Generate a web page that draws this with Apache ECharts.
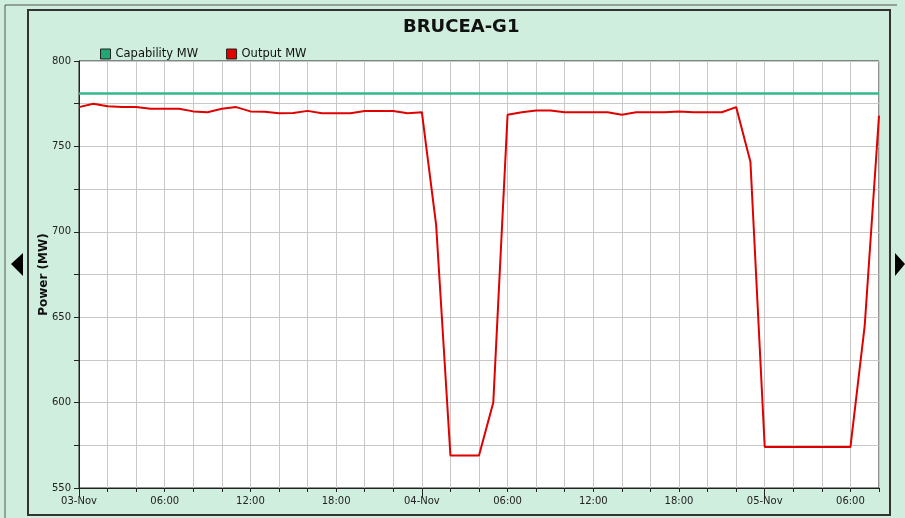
<!DOCTYPE html>
<html>
<head>
<meta charset="utf-8">
<script src="https://cdn.jsdelivr.net/npm/echarts@6/dist/echarts.min.js"></script>
<style>
  html, body { margin: 0; padding: 0; background: #cfeede; }
  #chart { width: 905px; height: 518px; }
</style>
</head>
<body>
<div id="chart"></div>
<script>
// hourly timestamps, 03-Nov 00:00 .. 05-Nov 08:00
const categories = [
  '03-Nov 00:00', '03-Nov 01:00', '03-Nov 02:00', '03-Nov 03:00', '03-Nov 04:00', '03-Nov 05:00',
  '03-Nov 06:00', '03-Nov 07:00', '03-Nov 08:00', '03-Nov 09:00', '03-Nov 10:00', '03-Nov 11:00',
  '03-Nov 12:00', '03-Nov 13:00', '03-Nov 14:00', '03-Nov 15:00', '03-Nov 16:00', '03-Nov 17:00',
  '03-Nov 18:00', '03-Nov 19:00', '03-Nov 20:00', '03-Nov 21:00', '03-Nov 22:00', '03-Nov 23:00',
  '04-Nov 00:00', '04-Nov 01:00', '04-Nov 02:00', '04-Nov 03:00', '04-Nov 04:00', '04-Nov 05:00',
  '04-Nov 06:00', '04-Nov 07:00', '04-Nov 08:00', '04-Nov 09:00', '04-Nov 10:00', '04-Nov 11:00',
  '04-Nov 12:00', '04-Nov 13:00', '04-Nov 14:00', '04-Nov 15:00', '04-Nov 16:00', '04-Nov 17:00',
  '04-Nov 18:00', '04-Nov 19:00', '04-Nov 20:00', '04-Nov 21:00', '04-Nov 22:00', '04-Nov 23:00',
  '05-Nov 00:00', '05-Nov 01:00', '05-Nov 02:00', '05-Nov 03:00', '05-Nov 04:00', '05-Nov 05:00',
  '05-Nov 06:00', '05-Nov 07:00', '05-Nov 08:00'
]

const capabilityMW = [
  781, 781, 781, 781, 781, 781, 781, 781, 781, 781, 781, 781,
  781, 781, 781, 781, 781, 781, 781, 781, 781, 781, 781, 781,
  781, 781, 781, 781, 781, 781, 781, 781, 781, 781, 781, 781,
  781, 781, 781, 781, 781, 781, 781, 781, 781, 781, 781, 781,
  781, 781, 781, 781, 781, 781, 781, 781, 781
]

const outputMW = [
  773, 775, 773.5, 773, 773, 772, 772, 772, 770.5, 770, 772, 773,
  770.5, 770.3, 769.4, 769.5, 770.8, 769.4, 769.4, 769.4, 770.7, 770.7, 770.7, 769.4,
  770, 704, 569, 569, 569, 600, 768.5, 770, 771, 771, 770, 770,
  770, 770, 768.5, 770, 770, 770, 770.5, 770, 770, 770, 773, 741,
  574, 574, 574, 574, 574, 574, 574, 645, 768
]

const yTickLabels = [550, 600, 650, 700, 750, 800]

const chart = echarts.init(document.getElementById('chart'))

const option = {
  backgroundColor: '#cfeede',
  animation: false,
  title: {
    text: 'BRUCEA-G1',
    left: 398,
    top: 13,
    textStyle: {
      fontFamily: 'DejaVu Sans',
      fontWeight: 'bold',
      fontSize: 18,
      color: '#111'
    }
  },
  legend: {
    left: 95,
    top: 43,
    itemWidth: 10,
    itemHeight: 10,
    itemGap: 28,
    icon: 'rect',
    textStyle: { fontFamily: 'DejaVu Sans', fontSize: 11.5, color: '#111' },
    data: [
      { name: 'Capability MW', itemStyle: { color: '#1fa774', borderColor: '#222', borderWidth: 1 } },
      { name: 'Output MW', itemStyle: { color: '#e00000', borderColor: '#222', borderWidth: 1 } }
    ]
  },
  grid: {
    left: 79,
    right: 26,
    top: 61,
    bottom: 30,
    show: true,
    backgroundColor: '#fff',
    borderColor: '#222',
    borderWidth: 1
  },
  xAxis: [
    {
      type: 'category',
      data: categories,
      boundaryGap: false,
      axisLine: { lineStyle: { color: '#222' } },
      axisTick: {
        interval: (i) => i % 2 === 0,
        length: 4,
        lineStyle: { color: '#222' }
      },
      axisLabel: {
        interval: (i) => i % 6 === 0,
        fontFamily: 'DejaVu Sans',
        fontSize: 10,
        color: '#222',
        margin: 8,
        formatter: (v) => v.endsWith('00:00') ? v.split(' ')[0] : v.split(' ')[1]
      },
      splitLine: {
        show: true,
        interval: (i) => i % 2 === 0,
        lineStyle: { color: '#c8c8c8', width: 1 }
      }
    },
    {
      // longer ticks at the day boundaries
      type: 'category',
      data: categories,
      boundaryGap: false,
      position: 'bottom',
      axisLine: { show: false },
      axisTick: {
        interval: (i) => i % 24 === 0,
        length: 9,
        lineStyle: { color: '#222' }
      },
      axisLabel: { show: false },
      splitLine: { show: false }
    }
  ],
  yAxis: {
    type: 'value',
    min: 550,
    max: 800,
    interval: 25,
    name: 'Power (MW)',
    nameLocation: 'middle',
    nameGap: 29,
    nameMoveOverlap: false,
    nameTextStyle: { fontFamily: 'DejaVu Sans', fontWeight: 'bold', fontSize: 12, color: '#111' },
    axisLine: { show: true, lineStyle: { color: '#222' } },
    axisTick: { show: true, length: 5, lineStyle: { color: '#222' } },
    axisLabel: {
      fontFamily: 'DejaVu Sans',
      fontSize: 10,
      color: '#222',
      margin: 8,
      formatter: (v) => yTickLabels.includes(v) ? String(v) : ''
    },
    splitLine: { lineStyle: { color: '#c8c8c8', width: 1 } }
  },
  series: [
    {
      name: 'Capability MW',
      type: 'line',
      data: capabilityMW,
      showSymbol: false,
      lineStyle: { color: '#33b88a', width: 2.5 },
      itemStyle: { color: '#1fa774' }
    },
    {
      name: 'Output MW',
      type: 'line',
      data: outputMW,
      showSymbol: false,
      lineStyle: { color: '#e00000', width: 2 },
      itemStyle: { color: '#e00000' }
    }
  ],
  graphic: [
    {
      type: 'polyline',
      shape: { points: [[5, 518], [5, 5], [897, 5]] },
      style: { stroke: '#555', lineWidth: 1, fill: null },
      silent: true
    },
    {
      type: 'rect',
      shape: { x: 28, y: 10, width: 862, height: 505 },
      style: { stroke: '#333', lineWidth: 2, fill: null },
      silent: true
    },
    {
      type: 'polygon',
      shape: { points: [[11, 264], [23, 253], [23, 276]] },
      style: { fill: '#000' },
      silent: true
    },
    {
      type: 'polygon',
      shape: { points: [[895, 253], [905, 264], [895, 276]] },
      style: { fill: '#000' },
      silent: true
    }
  ]
}

chart.setOption(option)
</script>
</body>
</html>
